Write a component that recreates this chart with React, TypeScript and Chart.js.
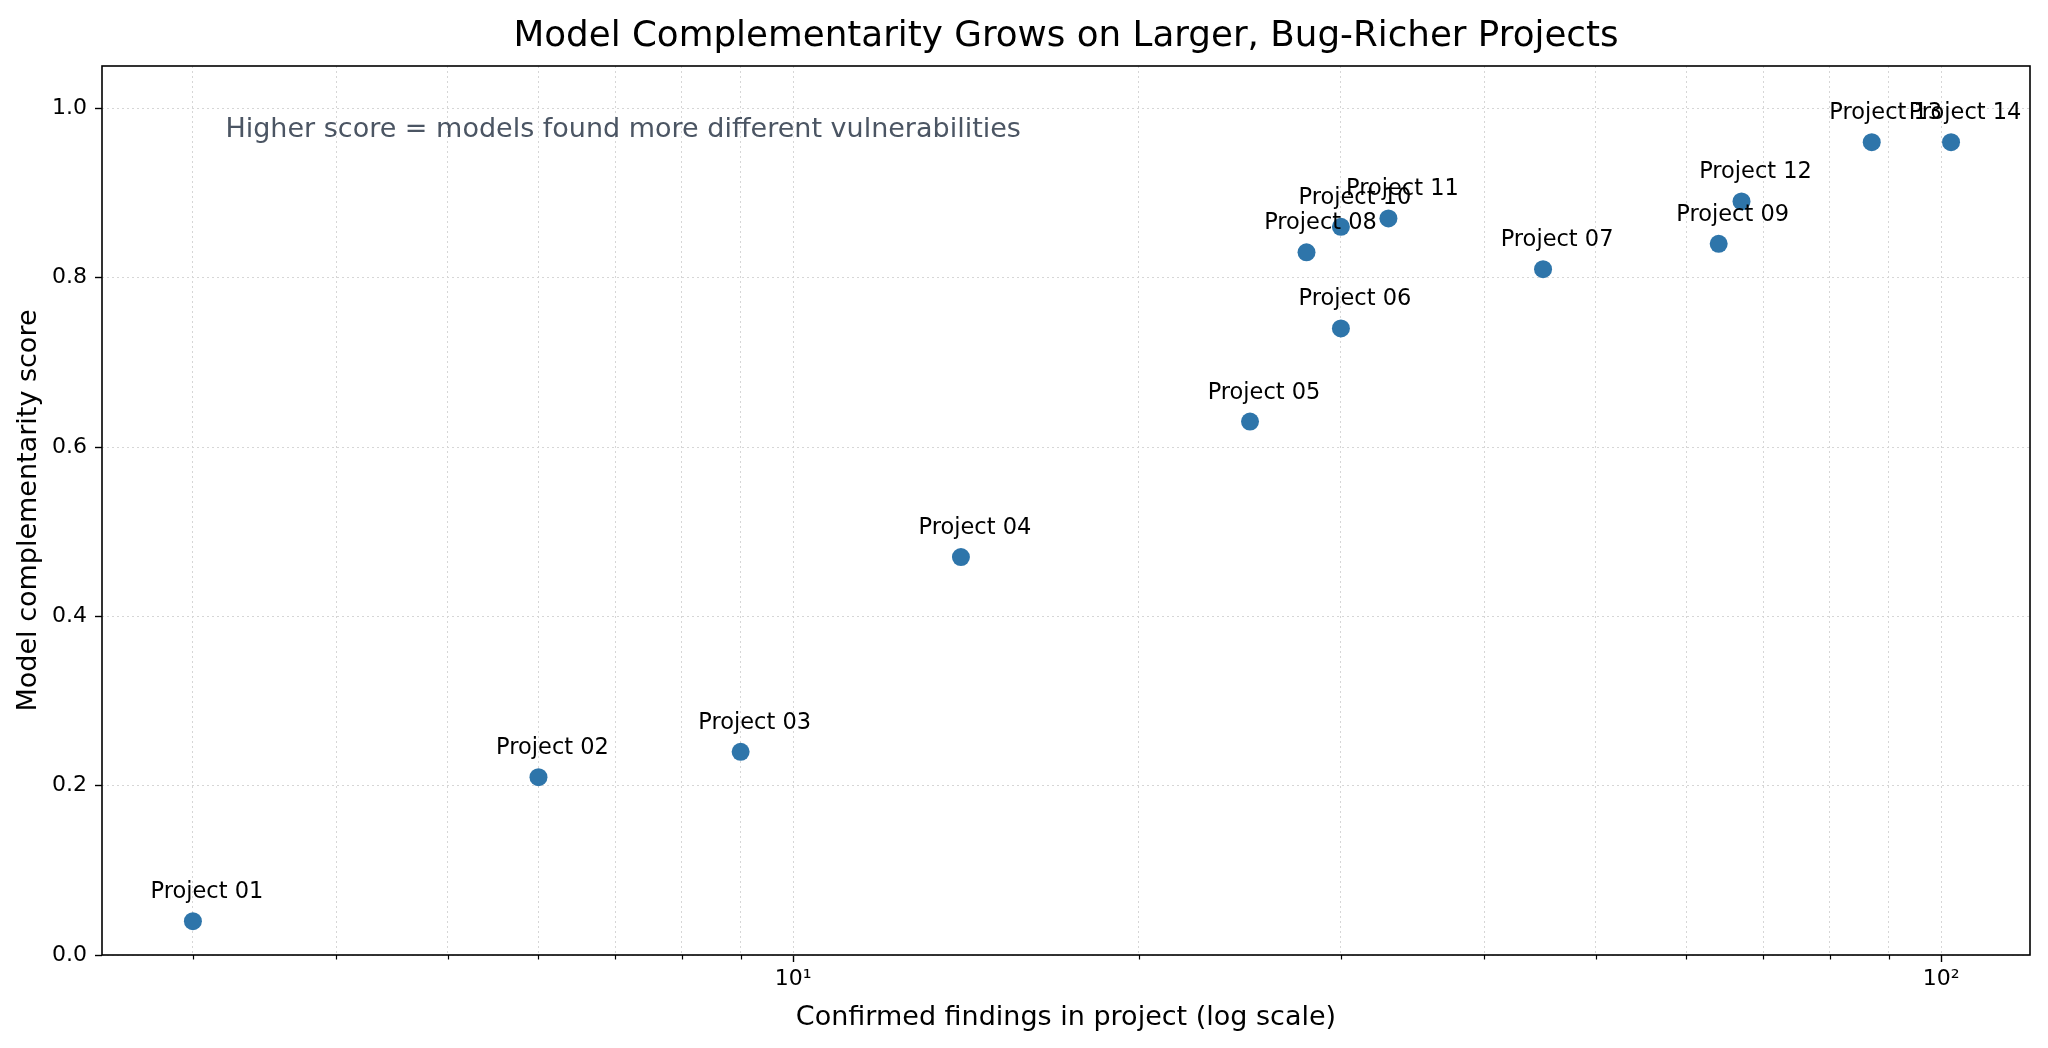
import React, { useEffect, useRef } from 'react';
import { Chart, registerables, Plugin } from 'chart.js';

Chart.register(...registerables);

const projectNames = [
  'Project 01', 'Project 02', 'Project 03', 'Project 04', 'Project 05', 'Project 06', 'Project 07',
  'Project 08', 'Project 09', 'Project 10', 'Project 11', 'Project 12', 'Project 13', 'Project 14',
];
const confirmedFindings = [3, 6, 9, 14, 25, 30, 45, 28, 64, 30, 33, 67, 87, 102];
const complementarity = [0.04, 0.21, 0.24, 0.47, 0.63, 0.74, 0.81, 0.83, 0.84, 0.86, 0.87, 0.89, 0.96, 0.96];

const xGridValues = [3, 4, 5, 6, 7, 8, 9, 10, 20, 30, 40, 50, 60, 70, 80, 90, 100];
const xTickLabels: Record<number, string> = { 10: '10\u00b9', 100: '10\u00b2' };
const yTickValues = [0, 0.2, 0.4, 0.6, 0.8, 1.0];

const titleText = 'Model Complementarity Grows on Larger, Bug-Richer Projects';
const noteText = 'Higher score = models found more different vulnerabilities';

const FONT = '"DejaVu Sans", "Liberation Sans", sans-serif';

const decorPlugin: Plugin<'scatter'> = {
  id: 'decor',
  afterDatasetsDraw(chart) {
    const { ctx, chartArea } = chart;
    const meta = chart.getDatasetMeta(0);
    ctx.save();
    ctx.font = `22.5px ${FONT}`;
    ctx.fillStyle = '#000';
    ctx.textAlign = 'center';
    ctx.textBaseline = 'alphabetic';
    meta.data.forEach((pt, i) => {
      ctx.fillText(projectNames[i], pt.x + 14, pt.y - 23);
    });

    // note in upper left of the axes
    ctx.font = `27px ${FONT}`;
    ctx.fillStyle = '#4b5563';
    ctx.textAlign = 'left';
    const w = chartArea.right - chartArea.left;
    ctx.fillText(noteText, chartArea.left + w * 0.064, chartArea.top + 71);
    ctx.restore();
  },
  afterDraw(chart) {
    const { ctx, chartArea } = chart;
    ctx.save();
    // minor x tick marks (shorter than the major ones)
    const xScale = chart.scales.x;
    ctx.strokeStyle = '#000';
    ctx.lineWidth = 1.2;
    xGridValues.forEach((v) => {
      if (v in xTickLabels) return;
      const px = Math.round(xScale.getPixelForValue(v)) + 0.5;
      ctx.beginPath();
      ctx.moveTo(px, chartArea.bottom);
      ctx.lineTo(px, chartArea.bottom + 4.5);
      ctx.stroke();
    });

    // axes frame
    ctx.lineWidth = 1.6;
    ctx.strokeRect(chartArea.left, chartArea.top, chartArea.right - chartArea.left, chartArea.bottom - chartArea.top);

    // title centred over the axes
    ctx.font = `35.7px ${FONT}`;
    ctx.fillStyle = '#000';
    ctx.textAlign = 'center';
    ctx.textBaseline = 'middle';
    ctx.fillText(titleText, (chartArea.left + chartArea.right) / 2, 36.4);
    ctx.restore();
  },
};

const gridStyle = {
  color: '#d6d6d6',
  lineWidth: 1,
  tickLength: 7,
  tickWidth: 1.4,
  tickBorderDash: [],
};

const App: React.FC = () => {
  const canvasRef = useRef<HTMLCanvasElement>(null);

  useEffect(() => {
    document.body.style.margin = '0';
    const canvas = canvasRef.current;
    let chart: Chart | null = null;

    if (canvas) {
      chart = new Chart(canvas, {
        type: 'scatter',
        data: {
          datasets: [
            {
              data: confirmedFindings.map((x, i) => ({ x, y: complementarity[i] })),
              backgroundColor: '#2e75aa',
              borderWidth: 0,
              pointRadius: 9,
              pointHoverRadius: 9,
            },
          ],
        },
        options: {
          animation: false,
          responsive: false,
          devicePixelRatio: 1,
          layout: { padding: { left: 0, right: 18, top: 66, bottom: 0 } },
          plugins: {
            legend: { display: false },
            tooltip: { enabled: false },
            title: { display: false },
          },
          scales: {
            x: {
              type: 'logarithmic',
              min: 2.5,
              max: 119.5,
              afterBuildTicks: (scale) => {
                scale.ticks = xGridValues.map((v) => ({ value: v, major: v in xTickLabels }));
              },
              afterFit: (scale) => {
                scale.height = 93;
              },
              ticks: {
                autoSkip: false,
                maxRotation: 0,
                padding: 4,
                color: '#000',
                font: { family: FONT, size: 22 },
                callback: (v) => xTickLabels[Number(v)] ?? '',
              },
              grid: {
                ...gridStyle,
                tickColor: (c: any) => (c.tick && c.tick.value in xTickLabels ? '#000' : 'rgba(0,0,0,0)'),
              },
              border: { display: false, dash: [2, 3] },
              title: {
                display: true,
                text: 'Confirmed findings in project (log scale)',
                color: '#000',
                font: { family: FONT, size: 27 },
                padding: { top: 0, bottom: 13.5 },
              },
            },
            y: {
              type: 'linear',
              min: 0,
              max: 1.05,
              afterBuildTicks: (scale) => {
                scale.ticks = yTickValues.map((v) => ({ value: v }));
              },
              afterFit: (scale) => {
                scale.width = 102;
              },
              ticks: {
                padding: 8,
                color: '#000',
                font: { family: FONT, size: 22 },
                callback: (v) => Number(v).toFixed(1),
              },
              grid: { ...gridStyle, tickColor: '#000' },
              border: { display: false, dash: [2, 3] },
              title: {
                display: true,
                text: 'Model complementarity score',
                color: '#000',
                font: { family: FONT, size: 27 },
                padding: { top: 12.5, bottom: 0 },
              },
            },
          },
        },
        plugins: [decorPlugin],
      });
    }

    return () => {
      if (chart) {
        chart.destroy();
      }
    };
  }, []);

  return (
    <div style={{ width: 2048, height: 1048, background: '#fff' }}>
      <canvas ref={canvasRef} width={2048} height={1048}></canvas>
    </div>
  );
};

export default App;
